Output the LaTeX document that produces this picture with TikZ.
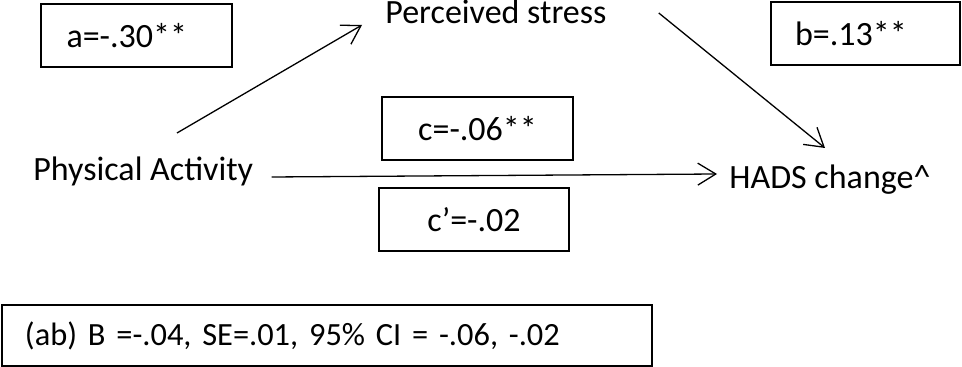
\documentclass[tikz,border=0pt]{standalone}
\usepackage{fontspec}
\setmainfont{Carlito}
\usetikzlibrary{arrows.meta,positioning}

\begin{document}
\begin{tikzpicture}[x=0.5pt,y=-0.5pt,font=\fontsize{17pt}{20pt}\selectfont,
    var/.style={inner sep=0pt,anchor=base west},
    coef/.style={draw,line width=1pt,minimum height=31.5pt,inner sep=0pt},
    effect/.style={line width=0.65pt,-{Straight Barb[length=9pt,width=11pt]}}]
    \useasboundingbox (0,0) rectangle (962,367);

    \node[var] (pa) at (33,181) {Physical Activity};
    \node[var] (ps) at (385,24) {Perceived stress};
    \node[var] (hads) at (729,189) {HADS change\textasciicircum};

    \node[coef,minimum width=95.5pt,text width=70pt,align=left,inner xsep=12.5pt] (ca) at (136.5,35.5) {a=-.30**};
    \node[coef,minimum width=94.5pt,text width=70.5pt,align=left,inner xsep=12pt] (cb) at (865.5,33.5) {b=.13**};
    \node[coef,minimum width=95.5pt] (cc) at (477.5,128.5) {c=-.06**};
    \node[coef,minimum width=95pt] (ccp) at (474,219.5) {c’=-.02};
    \node[coef,minimum width=325pt,minimum height=30.5pt,text width=302pt,align=left,inner xsep=11.5pt,
        font=\fontsize{16.2pt}{19pt}\selectfont] (cab) at (327,335.5) {(ab) B =-.04, SE=.01, 95\% CI = -.06, -.02};

    \draw[effect] ([xshift=72pt,yshift=24pt]pa.base west) -- ([xshift=-11.5pt,yshift=-0.5pt]ps.base west);
    \draw[effect] ([xshift=26pt,yshift=5.5pt]ps.base east) -- ([xshift=48pt,yshift=20.5pt]hads.base west);
    \draw[effect] ([xshift=9pt,yshift=2pt]pa.base east) -- ([xshift=-6pt,yshift=7.5pt]hads.base west);
\end{tikzpicture}
\end{document}
